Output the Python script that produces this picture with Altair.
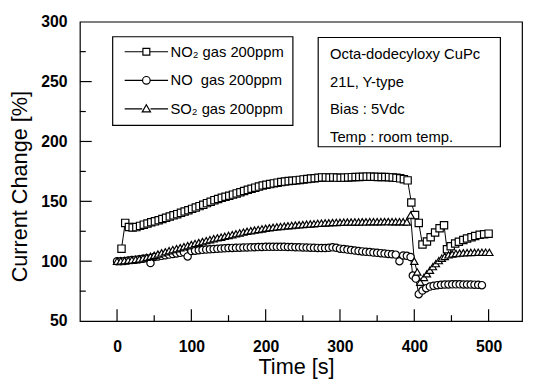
import altair as alt
import pandas as pd

# ---------------- data ----------------
base_t = [0, 5, 10, 15, 20, 25, 30, 35, 40, 45, 50, 55, 60, 65, 70, 75, 80, 85, 90, 95,
          100, 105, 110, 115, 120, 125, 130, 135, 140, 145, 150, 155, 160, 165, 170, 175,
          180, 185, 190, 195, 200, 205, 210, 215, 220, 225, 230, 235, 240, 245, 250, 255,
          260, 265, 270, 275, 280, 285, 290, 295, 300, 305, 310, 315, 320, 325, 330, 335,
          340, 345, 350, 355, 360, 365, 370, 375, 380, 385, 390]

no2_t = [6, 11, 16, 21, 26, 31, 36, 41, 46, 51, 56, 61, 66, 71, 76, 81, 86, 91, 96, 101,
         106, 111, 116, 121, 126, 131, 136, 141, 146, 151, 156, 161, 166, 171, 176, 181,
         186, 191, 196, 201, 206, 211, 216, 221, 226, 231, 236, 241, 246, 251, 256, 261,
         266, 271, 276, 281, 286, 291, 296, 301, 306, 311, 316, 321, 326, 331, 336, 341,
         346, 351, 356, 361, 366, 371, 376, 381, 386, 391,
         396, 401, 406, 411, 417, 422, 428, 434, 440, 444, 449, 455, 460, 466, 471, 477,
         482, 488, 494, 500]
no2_v = [110.5, 132.0,
         128.6, 128.2, 128.5, 129.5, 130.5, 131.5, 132.5, 133.3, 134.2, 135.2, 136.2, 137.3,
         138.3, 139.3, 140.4, 141.5, 142.6, 143.7, 144.8, 146.0,
         147.2, 148.5, 149.7, 151.0, 152.0, 152.9, 153.8, 154.7, 155.6, 156.6, 157.6, 158.6,
         159.6, 160.5, 161.4, 162.3, 163.2, 163.8, 164.4, 165.0,
         165.6, 166.1, 166.5, 166.9, 167.2, 167.5, 167.9, 168.3, 168.7, 169.0, 169.3, 169.6,
         170.0, 170.0, 169.8, 170.0, 169.8, 169.7, 169.8, 170.0,
         170.2, 170.3, 170.4, 170.5, 170.6, 170.6, 170.5, 170.4, 170.3, 170.3, 170.2, 170.0,
         169.6, 169.2, 168.5, 167.5,
         149.0, 138.5, 132.0, 114.0, 116.5, 120.0, 124.0, 127.5, 130.0, 110.0, 112.5, 114.8,
         116.3, 117.7, 119.0, 120.0, 121.0, 122.0, 122.5, 123.0]

no_t = base_t + [395, 398, 402, 406, 411, 416, 421, 426, 431, 436, 441, 446, 451, 456,
                 461, 466, 471, 476, 481, 486, 491]
no_v = [100.0, 100.0, 100.2, 100.5, 101.0, 101.3, 101.7, 102.0, 102.5, 98.5,
        103.5, 104.0, 104.5, 105.0, 105.5, 106.0, 106.5, 107.0, 107.5, 104.0,
        108.5, 108.8, 109.2, 109.5, 109.8, 110.0, 110.2, 110.4, 110.6, 110.8,
        111.0, 111.1, 111.2, 111.3, 111.4, 111.5, 111.6, 111.7, 111.8, 111.9,
        112.0, 112.0, 112.1, 112.0, 112.0, 112.0, 111.9, 111.8, 111.7, 111.6,
        111.5, 111.4, 111.3, 111.2, 111.1, 111.0, 111.0, 111.2, 111.6, 111.2,
        110.5, 110.1, 109.7, 109.3, 108.9, 108.5, 108.2, 107.9, 107.6, 107.3,
        107.0, 106.7, 106.4, 106.1, 105.8, 105.5, 100.0, 104.8, 104.5,
        103.5, 88.0, 85.5, 72.5, 75.5, 77.5, 78.8, 79.5, 80.0, 80.3, 80.5, 80.6,
        80.7, 80.7, 80.7, 80.6, 80.6, 80.5, 80.4, 80.3, 80.0]

so2_t = base_t + [395, 400, 404, 408, 413, 417, 421, 425, 429, 433, 437, 441, 446, 451,
                  456, 461, 466, 471, 476, 481, 486, 491, 496, 501]
so2_v = [100.0, 100.2, 100.5, 100.8, 101.1, 101.5, 102.0, 102.6, 103.3, 104.1,
         105.0, 106.0, 107.0, 107.9, 108.8, 109.7, 110.5, 111.3, 112.1, 113.0,
         113.9, 114.8, 115.6, 116.4, 117.2, 118.0, 118.8, 119.5, 120.1, 120.8,
         121.5, 122.2, 122.9, 123.6, 124.3, 125.0, 125.5, 126.0, 126.5, 127.0,
         127.5, 127.9, 128.3, 128.7, 129.0, 129.3, 129.6, 129.9, 130.2, 130.4,
         130.6, 130.9, 131.1, 131.3, 131.6, 131.8, 132.0, 132.1, 132.3, 132.4,
         132.5, 132.6, 132.7, 132.7, 132.8, 132.8, 132.9, 132.9, 133.0, 133.0,
         133.0, 133.0, 133.1, 133.1, 133.0, 133.0, 133.0, 133.0, 132.8,
         138.5, 100.0, 91.0, 82.5, 86.5, 89.5, 92.5, 95.5, 98.0, 100.5, 102.5, 104.0,
         105.3, 106.0, 106.5, 106.8, 107.0, 107.2, 107.3, 107.4, 107.5, 107.5, 107.5, 107.4]

series_labels = ["NO\u2082 gas 200ppm", "NO\u00a0\u00a0gas 200ppm", "SO\u2082 gas 200ppm"]
info_lines = ["Octa-dodecyloxy CuPc", "21L, Y-type", "Bias : 5Vdc", "Temp : room temp."]

x_labels = [0, 100, 200, 300, 400, 500]
x_minor = [50, 150, 250, 350, 450]
y_labels = [50, 100, 150, 200, 250, 300]
y_major = [100, 150, 200, 250]
y_minor = [75, 125, 175, 225, 275]

# ---------------- tables ----------------
rows = []
for lab, ts, vs in zip(series_labels, [no2_t, no_t, so2_t], [no2_v, no_v, so2_v]):
    for t, v in zip(ts, vs):
        rows.append({"t": t, "v": v, "series": lab})
df = pd.DataFrame(rows)

FONT = "Liberation Sans"
W, H = 449, 304

xs = alt.Scale(domain=[-50, 545], nice=False, zero=False)
ys = alt.Scale(domain=[50, 300], nice=False, zero=False)

xax = alt.Axis(values=x_labels, ticks=False, tickSize=0, domain=False, grid=False,
               labelFont=FONT, labelFontSize=16, labelFontWeight="bold", labelColor="black",
               labelPadding=18, labelFlush=False, labelOverlap=False,
               title="Time [s]", titleFont=FONT, titleFontSize=22, titleFontWeight="normal",
               titleColor="black", titleX=219.5, titleY=53, titleBaseline="alphabetic",
               titleAlign="center")
yax = alt.Axis(values=y_labels, ticks=False, tickSize=0, domain=False, grid=False,
               labelFont=FONT, labelFontSize=16, labelFontWeight="bold", labelColor="black",
               labelPadding=13, labelFlush=False, labelOverlap=False,
               title="Current Change [%]", titleFont=FONT, titleFontSize=22,
               titleFontWeight="normal", titleColor="black", titleAngle=270,
               titleX=-54, titleY=167, titleBaseline="alphabetic", titleAlign="center")

X = alt.X("t:Q", scale=xs, axis=xax)
Y = alt.Y("v:Q", scale=ys, axis=yax)

lines = alt.Chart(df).mark_line(color="black", strokeWidth=1).encode(
    x=X, y=Y, detail="series:N")

points = alt.Chart(df).mark_point(filled=True, fill="white", stroke="black",
                                  strokeWidth=1.2, size=55, opacity=1).encode(
    x=X, y=Y,
    shape=alt.Shape("series:N",
                    scale=alt.Scale(domain=series_labels,
                                    range=["square", "circle", "triangle-up"]),
                    legend=None))

legend_paths = [
    "M-6.3,0H-1M1,0H6.3M-1,-1H1V1H-1Z",
    "M-6.3,0H-1.1M1.1,0H6.3M1.1,0A1.1,1.1,0,1,1,-1.1,0A1.1,1.1,0,1,1,1.1,0",
    "M-6.3,0H-1.2M1.2,0H6.3M0,-1.2L1.2,0.9L-1.2,0.9Z",
]
legend_layer = alt.Chart(df).transform_filter("false").mark_point(
    filled=False, color="black", strokeWidth=1.2, size=49, opacity=1
).encode(
    shape=alt.Shape("series:N",
                    scale=alt.Scale(domain=series_labels, range=legend_paths),
                    legend=alt.Legend(title=None, orient="none", legendX=33, legendY=15,
                                      strokeColor="black", fillColor="white", padding=8,
                                      symbolOffset=19, labelOffset=17, rowPadding=13,
                                      symbolSize=49, symbolStrokeColor="black",
                                      symbolStrokeWidth=1.2, symbolOpacity=1,
                                      labelFont=FONT, labelFontSize=15, labelColor="black",
                                      labelLimit=400)))

xt_major = alt.Chart(pd.DataFrame({"t": x_labels})).mark_rule(
    color="black", strokeWidth=1.2).encode(
    x=alt.X("t:Q", scale=xs, axis=xax), y=alt.value(H), y2=alt.value(H - 12))
xt_minor = alt.Chart(pd.DataFrame({"t": x_minor})).mark_rule(
    color="black", strokeWidth=1.2).encode(
    x=alt.X("t:Q", scale=xs, axis=xax), y=alt.value(H), y2=alt.value(H - 6))
yt_major = alt.Chart(pd.DataFrame({"v": y_major})).mark_rule(
    color="black", strokeWidth=1.2).encode(
    y=alt.Y("v:Q", scale=ys, axis=yax), x=alt.value(0), x2=alt.value(12))
yt_minor = alt.Chart(pd.DataFrame({"v": y_minor})).mark_rule(
    color="black", strokeWidth=1.2).encode(
    y=alt.Y("v:Q", scale=ys, axis=yax), x=alt.value(0), x2=alt.value(6))

info_df = pd.DataFrame({"text": ["\n".join(info_lines)]})
info_box = alt.Chart(info_df).mark_rect(fill="white", stroke="black", strokeWidth=1.2).encode(
    x=alt.value(242), x2=alt.value(427), y=alt.value(16), y2=alt.value(127))
info_text = alt.Chart(info_df).mark_text(
    align="left", baseline="top", lineBreak="\n", lineHeight=28, font=FONT,
    fontSize=15, color="black").encode(
    text="text:N", x=alt.value(254), y=alt.value(26))

chart = alt.layer(
    lines, points, legend_layer, xt_major, xt_minor, yt_major, yt_minor, info_box, info_text
).resolve_scale(shape="independent").properties(
    width=W, height=H,
    padding={"left": 73, "top": 11, "right": 3, "bottom": 63},
    autosize=alt.AutoSizeParams(type="none"),
    background="white",
).configure_view(stroke="black", strokeWidth=1.2).configure_legend(strokeWidth=1.2)

chart.save("out.html", embed_options={"renderer": "svg", "actions": False})
